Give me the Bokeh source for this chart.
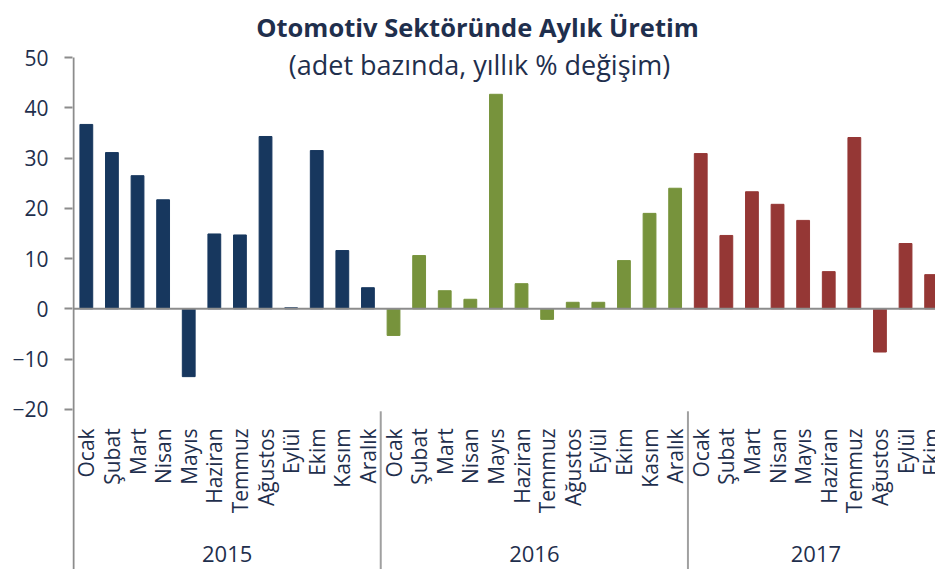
from bokeh.plotting import figure
from bokeh.models import Range1d, FixedTicker, ColumnDataSource
from bokeh.core.properties import value
from bokeh.embed import file_html
from bokeh.resources import INLINE

# ---- data ----
years = ["2015", "2016", "2017"]
months = ["Ocak", "Şubat", "Mart", "Nisan", "Mayıs", "Haziran",
          "Temmuz", "Ağustos", "Eylül", "Ekim", "Kasım", "Aralık"]
values_2015 = [36.7, 31.1, 26.5, 21.7, -13.5, 14.9, 14.7, 34.3, 0.2, 31.5, 11.6, 4.2]
values_2016 = [-5.3, 10.6, 3.6, 1.9, 42.7, 5.0, -2.1, 1.3, 1.3, 9.6, 19.0, 24.0]
values_2017 = [30.9, 14.6, 23.3, 20.8, 17.6, 7.4, 34.1, -8.6, 13.0, 6.8]
y_ticks = [-20, -10, 0, 10, 20, 30, 40, 50]
title_text = "Otomotiv Sektöründe Aylık Üretim"
subtitle_text = "(adet bazında, yıllık % değişim)"

series = [values_2015, values_2016, values_2017]
colors = ["#17375E", "#77933C", "#953735"]

FONT = value("Open Sans")
TEXT = "#1F2F4D"
GRAY = "#8C8C8C"

p = figure(width=935, height=569, output_backend="svg", toolbar_location=None,
           x_axis_type=None, x_range=Range1d(-0.04, 33.67),
           y_range=Range1d(-51.89, 61.37),
           min_border_left=72, min_border_right=0, min_border_top=0,
           min_border_bottom=0)
p.outline_line_color = None
p.grid.visible = False
p.background_fill_color = "white"

# y axis (ticks + labels); axis line drawn separately
ya = p.yaxis[0]
ya.ticker = FixedTicker(ticks=y_ticks)
ya.axis_line_color = None
ya.major_tick_line_color = GRAY
ya.major_tick_line_width = 2
ya.major_tick_out = 8
ya.major_tick_in = 0
ya.minor_tick_line_color = None
ya.major_label_text_font = "Open Sans"
ya.major_label_text_font_size = "21px"
ya.major_label_text_color = TEXT
ya.major_label_standoff = 16

# bars
xs, tops, cols, labels = [], [], [], []
idx = 0
for yi, vals in enumerate(series):
    for mi, v in enumerate(vals):
        xs.append(idx + 0.5)
        tops.append(v)
        cols.append(colors[yi])
        labels.append(months[mi])
        idx += 1
src = ColumnDataSource(dict(x=xs, top=tops, color=cols, label=labels))
p.vbar(x="x", top="top", bottom=0, width=0.5, color="color", source=src)

# zero line and axis line
p.segment(x0=[0], y0=[0], x1=[40], y1=[0], line_color=GRAY, line_width=2)
p.segment(x0=[0], y0=[50], x1=[0], y1=[-60], line_color=GRAY, line_width=2)

# year separators
seps = [12, 24]
p.segment(x0=seps, y0=[-20.4] * len(seps), x1=seps, y1=[-60] * len(seps),
          line_color="#A0A0A0", line_width=2)

# month labels
p.text(x="x", y=-23.8, text="label", source=src, angle=1.5708,
       text_align="right", text_baseline="middle", text_font=FONT,
       text_font_size="21px", text_color=TEXT)

# year labels (centred on the months shown for each year)
year_x = []
start = 0
for vals in series:
    year_x.append(start + len(vals) / 2)
    start += 12
p.text(x=year_x, y=[-48.9] * 3, text=years, text_align="center",
       text_baseline="middle", text_font=FONT, text_font_size="22px",
       text_color=TEXT)

# titles
p.text(x=[15.78], y=[56.0], text=[title_text], text_align="center",
       text_baseline="alphabetic", text_font=FONT, text_font_size="25.5px",
       text_font_style="bold", text_color=TEXT)
p.text(x=[15.86], y=[48.6], text=[subtitle_text], text_align="center",
       text_baseline="alphabetic", text_font=FONT, text_font_size="27px",
       text_color=TEXT)

open("out.html", "w").write(file_html(p, INLINE))
